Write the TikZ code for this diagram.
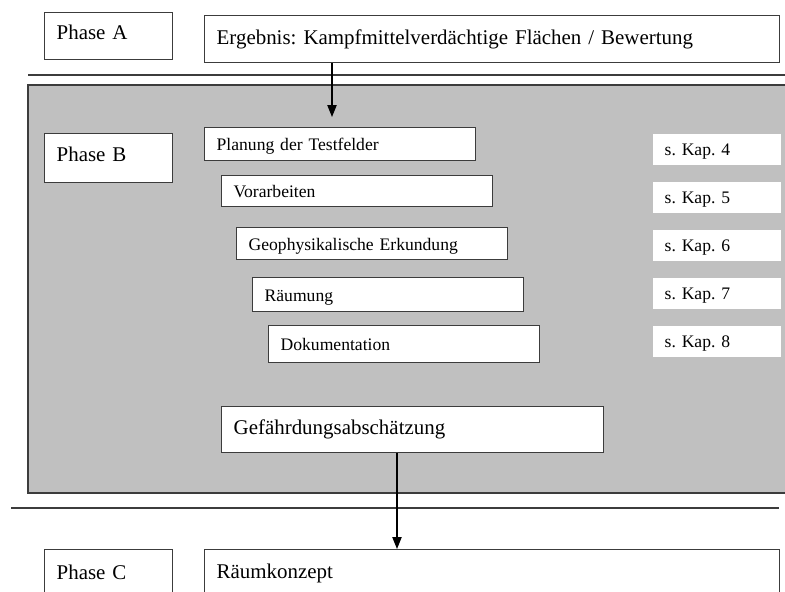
\documentclass[tikz,border=0pt]{standalone}
\usepackage{fontspec}
\setmainfont{Liberation Serif}
\usetikzlibrary{arrows.meta}
\definecolor{frame}{HTML}{3C3C3C}
\definecolor{panel}{HTML}{C0C0C0}
\newcommand\bigfont{\fontsize{15.7pt}{19pt}\selectfont}
\newcommand\smallfont{\fontsize{13.2pt}{16pt}\selectfont}
\frenchspacing
\tikzset{
  box/.style={draw=frame, fill=white, line width=1pt, anchor=north west,
    inner xsep=9pt, inner ysep=0pt, align=left},
  phasebox/.style={box, text width=78pt, minimum height=35.25pt, font=\bigfont,
    text height=10.7pt, text depth=6pt},
  widebox/.style={box, text width=413.25pt, minimum height=35.25pt, font=\bigfont},
  stepbox/.style={box, text width=185.25pt, minimum height=#1, font=\smallfont,
    text height=9.5pt, text depth=0pt},
  stepbox/.default=24pt,
  kapbox/.style={box, draw=none, text width=78pt, minimum height=23.25pt, font=\smallfont,
    text height=9pt, text depth=0pt},
  arr/.style={-{Triangle[length=9pt,width=7pt]}, line width=0.9pt, draw=black},
}
\begin{document}
\begin{tikzpicture}[x=0.75pt,y=-0.75pt]
  \useasboundingbox (0,0) rectangle (785,592);
  \clip (0,0) rectangle (785,592);
  % phase A
  \node[phasebox] (phaseA) at (44,12) {Phase A};
  \node[widebox] (ergebnis) at (204,15) {Ergebnis: Kampfmittelverdächtige Flächen / Bewertung};
  \draw[frame, line width=1pt] (28,75) -- (785,75);
  % phase B
  \draw[frame, fill=panel, line width=1pt] (28,85) rectangle (800,493);
  \node[phasebox, minimum height=36.75pt] (phaseB) at (44,133) {Phase B};
  \node[stepbox=24.75pt] (planung) at (204,127) {Planung der Testfelder};
  \node[stepbox=23.25pt] (vorarbeiten) at (221,175) {Vorarbeiten};
  \node[stepbox] (erkundung) at (236,227) {Geophysikalische Erkundung};
  \node[stepbox=25.5pt] (raeumung) at (252,277) {Räumung};
  \node[stepbox=27.75pt] (doku) at (268,325) {Dokumentation};
  \foreach \k/\y in {4/133,5/181,6/229,7/277,8/325}
    \node[kapbox] (kap\k) at (652,\y) {s. Kap. \k};
  \node[widebox, text width=268.5pt, minimum height=34.5pt] (gefahr) at (221,406) {Gefährdungsabschätzung};
  \draw[frame, line width=1pt] (11,508) -- (779,508);
  % phase C
  \node[phasebox, text depth=1.5pt] (phaseC) at (44,549) {Phase C};
  \node[widebox] (konzept) at (204,549) {Räumkonzept};
  % arrows
  \coordinate (intoB) at (332,117);
  \coordinate (intoC) at (397,549);
  \draw[arr] (ergebnis.south -| intoB) -- (intoB);
  \draw[arr] (gefahr.south -| intoC) -- (intoC);
\end{tikzpicture}
\end{document}
